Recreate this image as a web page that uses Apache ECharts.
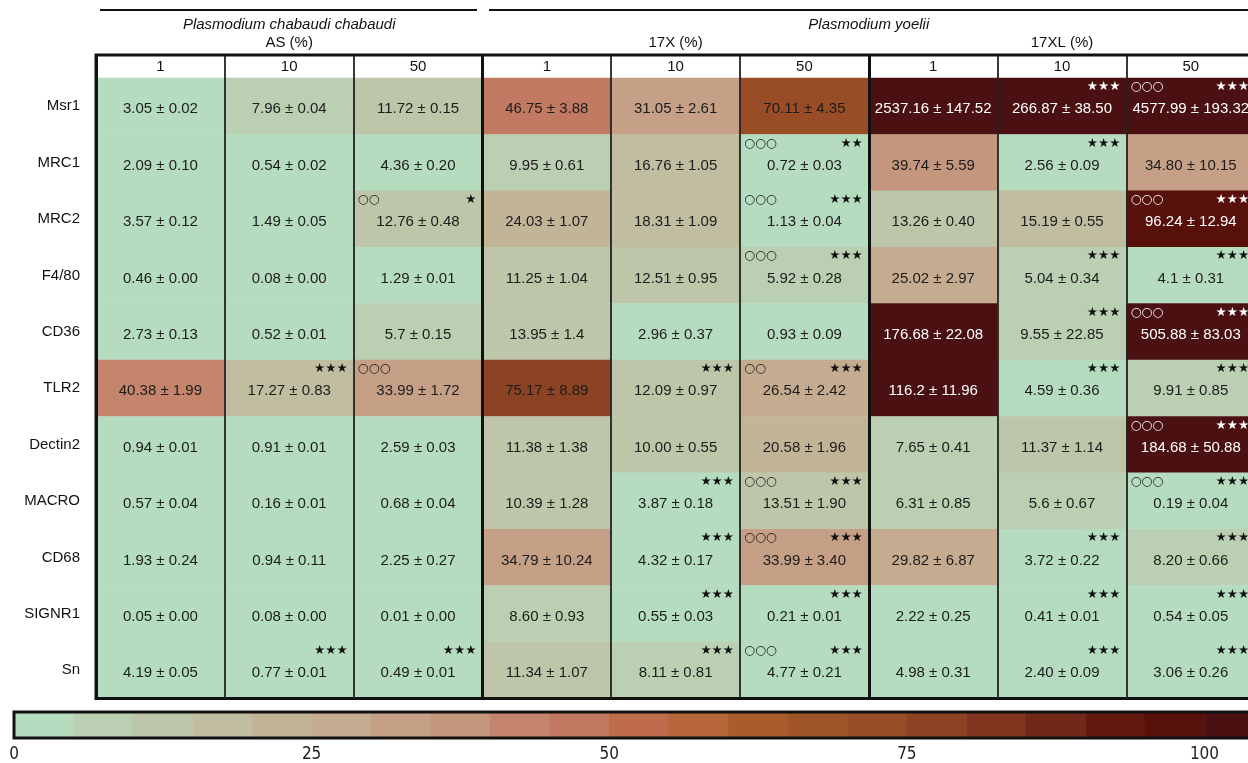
<!DOCTYPE html>
<html><head><meta charset="utf-8">
<script src="https://cdn.jsdelivr.net/npm/echarts@6/dist/echarts.min.js"></script>
<style>html,body{margin:0;padding:0;background:#fff;overflow:hidden;width:1248px;height:763px}#c{width:1270px;height:763px}</style>
</head><body><div id="c"></div>
<script>
// ---------------- data ----------------
const genes = ['Msr1','MRC1','MRC2','F4/80','CD36','TLR2','Dectin2','MACRO','CD68','SIGNR1','Sn'];
const doses = ['1','10','50','1','10','50','1','10','50'];
const strains = ['AS (%)','17X (%)','17XL (%)'];
const species = ['Plasmodium chabaudi chabaudi','Plasmodium yoelii'];

const means = [
  ['3.05','7.96','11.72','46.75','31.05','70.11','2537.16','266.87','4577.99'],
  ['2.09','0.54','4.36','9.95','16.76','0.72','39.74','2.56','34.80'],
  ['3.57','1.49','12.76','24.03','18.31','1.13','13.26','15.19','96.24'],
  ['0.46','0.08','1.29','11.25','12.51','5.92','25.02','5.04','4.1'],
  ['2.73','0.52','5.7','13.95','2.96','0.93','176.68','9.55','505.88'],
  ['40.38','17.27','33.99','75.17','12.09','26.54','116.2','4.59','9.91'],
  ['0.94','0.91','2.59','11.38','10.00','20.58','7.65','11.37','184.68'],
  ['0.57','0.16','0.68','10.39','3.87','13.51','6.31','5.6','0.19'],
  ['1.93','0.94','2.25','34.79','4.32','33.99','29.82','3.72','8.20'],
  ['0.05','0.08','0.01','8.60','0.55','0.21','2.22','0.41','0.54'],
  ['4.19','0.77','0.49','11.34','8.11','4.77','4.98','2.40','3.06']
];
const sds = [
  ['0.02','0.04','0.15','3.88','2.61','4.35','147.52','38.50','193.32'],
  ['0.10','0.02','0.20','0.61','1.05','0.03','5.59','0.09','10.15'],
  ['0.12','0.05','0.48','1.07','1.09','0.04','0.40','0.55','12.94'],
  ['0.00','0.00','0.01','1.04','0.95','0.28','2.97','0.34','0.31'],
  ['0.13','0.01','0.15','1.4','0.37','0.09','22.08','22.85','83.03'],
  ['1.99','0.83','1.72','8.89','0.97','2.42','11.96','0.36','0.85'],
  ['0.01','0.01','0.03','1.38','0.55','1.96','0.41','1.14','50.88'],
  ['0.04','0.01','0.04','1.28','0.18','1.90','0.85','0.67','0.04'],
  ['0.24','0.11','0.27','10.24','0.17','3.40','6.87','0.22','0.66'],
  ['0.00','0.00','0.00','0.93','0.03','0.01','0.25','0.01','0.05'],
  ['0.05','0.01','0.01','1.07','0.81','0.21','0.31','0.09','0.26']
];
// significance marks: number of open circles (top-left) and stars (top-right)
const circleMarks = [
  [0,0,0,0,0,0,0,0,3],
  [0,0,0,0,0,3,0,0,0],
  [0,0,2,0,0,3,0,0,3],
  [0,0,0,0,0,3,0,0,0],
  [0,0,0,0,0,0,0,0,3],
  [0,0,3,0,0,2,0,0,0],
  [0,0,0,0,0,0,0,0,3],
  [0,0,0,0,0,3,0,0,3],
  [0,0,0,0,0,3,0,0,0],
  [0,0,0,0,0,0,0,0,0],
  [0,0,0,0,0,3,0,0,0]
];
const starMarks = [
  [0,0,0,0,0,0,0,3,3],
  [0,0,0,0,0,2,0,3,0],
  [0,0,1,0,0,3,0,0,3],
  [0,0,0,0,0,3,0,3,3],
  [0,0,0,0,0,0,0,3,3],
  [0,3,0,0,3,3,0,3,3],
  [0,0,0,0,0,0,0,0,3],
  [0,0,0,0,3,3,0,0,3],
  [0,0,0,0,3,3,0,3,3],
  [0,0,0,0,3,3,0,3,3],
  [0,3,3,0,3,3,0,3,3]
];
const scaleStep = 5;
const scaleColors = ['#b6dcc0','#bbcfb2','#bdc6a9','#c0bda0','#c2b597','#c5ab8f','#c5a086','#c4967e',
  '#c4856c','#c17a61','#bf6c4d','#b8673b','#a95d2a','#a05529','#984d26','#8c4324',
  '#82341f','#722818','#621a0e','#57100a','#4a1012'];

// ---------------- layout / style ----------------
const FONT = '"Liberation Sans", Arial, sans-serif';
const LEFT = 96, COLW = 128.8, TOP = 78, ROWH = 56.4;
const W = COLW * doses.length, H = ROWH * genes.length;
const DARK = 90;

const pieces = scaleColors.map((c, i) => i < scaleColors.length - 1
  ? { gte: i * scaleStep, lt: (i + 1) * scaleStep, color: c }
  : { gte: i * scaleStep, color: c });

const cells = [];
const marks = [];
genes.forEach((g, r) => {
  doses.forEach((d, c) => {
    const v = Number(means[r][c]);
    cells.push({ value: [c, r, v], text: means[r][c] + ' ± ' + sds[r][c],
      label: { color: v >= DARK ? '#ffffff' : '#1c1c1c' } });
    if (circleMarks[r][c] || starMarks[r][c]) marks.push([c, r, circleMarks[r][c], starMarks[r][c], v >= DARK ? 1 : 0]);
  });
});
const scaleCats = scaleColors.map((_, i) => String(i));
const scaleData = scaleColors.map((_, i) => [i, 0, i * scaleStep + scaleStep / 2]);

const chart = echarts.init(document.getElementById('c'), null, { renderer: 'canvas' });
chart.setOption({
  animation: false,
  backgroundColor: '#ffffff',
  textStyle: { fontFamily: FONT },
  grid: [
    { left: LEFT, top: TOP, width: W, height: H },
    { left: LEFT, top: 55, width: W, height: TOP + H - 55, show: true, borderColor: '#111', borderWidth: 3, backgroundColor: 'transparent', z: 10 },
    { left: 14, top: 712, width: 1250, height: 26, show: true, borderColor: '#111', borderWidth: 3, backgroundColor: 'transparent', z: 10 }
  ],
  xAxis: [
    { type: 'category', gridIndex: 0, data: doses, position: 'top',
      axisLine: { show: false }, axisTick: { show: false }, splitLine: { show: false },
      axisLabel: { margin: 4, fontSize: 15, color: '#111', fontFamily: FONT } },
    { type: 'category', gridIndex: 1, data: doses, position: 'top', z: 10,
      axisLine: { show: false }, axisTick: { show: false }, axisLabel: { show: false },
      splitLine: { show: true, interval: 0, lineStyle: { color: '#222', width: 1.8 } } },
    { type: 'category', gridIndex: 1, data: strains, position: 'top', z: 11,
      axisLine: { show: false }, axisTick: { show: false },
      axisLabel: { margin: 5, fontSize: 15, color: '#111', fontFamily: FONT },
      splitLine: { show: true, interval: 0, lineStyle: { color: '#111', width: 3 } } },
    { type: 'category', gridIndex: 2, data: scaleCats, show: false },
    { type: 'value', gridIndex: 2, min: 0, max: 105, interval: 25, position: 'bottom',
      axisLine: { show: false }, axisTick: { show: false }, splitLine: { show: false },
      axisLabel: { margin: 8, fontSize: 17, color: '#222', fontFamily: '"Liberation Sans Narrow", "DejaVu Sans Condensed", sans-serif', showMaxLabel: false } }
  ],
  yAxis: [
    { type: 'category', gridIndex: 0, data: genes, inverse: true,
      axisLine: { show: false }, axisTick: { show: false }, splitLine: { show: false },
      axisLabel: { margin: 16, fontSize: 15, color: '#111', fontFamily: FONT } },
    { type: 'category', gridIndex: 1, data: [''], show: false },
    { type: 'category', gridIndex: 2, data: [''], show: false }
  ],
  visualMap: { type: 'piecewise', show: false, dimension: 2, seriesIndex: [0, 1], pieces: pieces },
  series: [
    { type: 'heatmap', xAxisIndex: 0, yAxisIndex: 0, data: cells,
      itemStyle: { borderWidth: 0 }, emphasis: { disabled: true },
      label: { show: true, fontSize: 15, fontFamily: FONT, offset: [0, 3], formatter: p => p.data.text } },
    { type: 'heatmap', xAxisIndex: 3, yAxisIndex: 2, data: scaleData,
      itemStyle: { borderWidth: 0 }, emphasis: { disabled: true }, label: { show: false } },
    { type: 'custom', xAxisIndex: 0, yAxisIndex: 0, data: marks, z: 5, silent: true,
      renderItem: function (params, api) {
        const pt = api.coord([api.value(0), api.value(1)]);
        const sz = api.size([1, 1]);
        const col = api.value(4) ? '#ffffff' : '#111111';
        const x0 = pt[0] - sz[0] / 2, x1 = pt[0] + sz[0] / 2, y0 = pt[1] - sz[1] / 2;
        const kids = [];
        const nc = api.value(2), ns = api.value(3);
        if (nc) kids.push({ type: 'text', style: { text: '○'.repeat(nc), x: x0 + 4, y: y0 + 9,
          align: 'left', verticalAlign: 'middle', fill: col, font: '12.5px "DejaVu Sans"' } });
        if (ns) kids.push({ type: 'text', style: { text: '★'.repeat(ns), x: x1 - 6, y: y0 + 9,
          align: 'right', verticalAlign: 'middle', fill: col, font: '12.5px "DejaVu Sans"' } });
        return { type: 'group', children: kids };
      } }
  ],
  graphic: [
    { type: 'line', shape: { x1: 100, y1: 10, x2: 477, y2: 10 }, style: { stroke: '#111', lineWidth: 2 } },
    { type: 'line', shape: { x1: 489, y1: 10, x2: 1270, y2: 10 }, style: { stroke: '#111', lineWidth: 2 } },
    { type: 'text', x: LEFT + W / 6, y: 25, style: { text: species[0], align: 'center', verticalAlign: 'middle',
      font: 'italic 15px "Liberation Sans", Arial', fill: '#111' } },
    { type: 'text', x: LEFT + W * 2 / 3, y: 25, style: { text: species[1], align: 'center', verticalAlign: 'middle',
      font: 'italic 15px "Liberation Sans", Arial', fill: '#111' } }
  ]
});
</script></body></html>
